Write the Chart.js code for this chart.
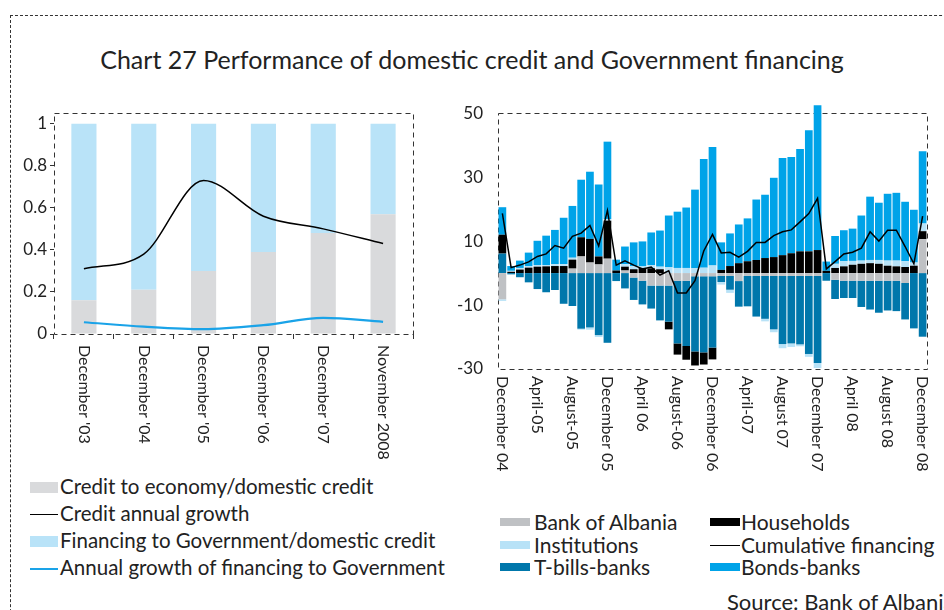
<!DOCTYPE html>
<html>
<head>
<meta charset="utf-8">
<script src="https://cdn.jsdelivr.net/npm/chart.js"></script>
<style>
  body { margin: 0; width: 944px; height: 610px; overflow: hidden; background: #fff; font-family: Lato, "Noto Sans", sans-serif; color: #222; position: relative; }
  #frame { position: absolute; left: 10px; top: 15px; width: 1000px; height: 700px; border: 1px dashed #333; }
  #title { position: absolute; left: 0; width: 944px; top: 44px; text-align: center; font-size: 25px; }
  .cv { position: absolute; }
  .leg { position: absolute; font-size: 20.5px; line-height: 27px; white-space: nowrap; }
  .leg div { position: relative; padding-left: 30px; }
  .sw { position: absolute; left: 0; top: 50%; }
  .leg2 { position: absolute; font-size: 21px; line-height: 22.5px; white-space: nowrap; }
  .leg2 div { position: relative; padding-left: 34px; }
  #source { position: absolute; left: 727px; top: 588px; font-size: 22px; white-space: nowrap; }
</style>
</head>
<body>
<div id="frame"></div>
<div id="title">Chart 27 Performance of domestic credit and Government financing</div>
<canvas id="left" class="cv" style="left:10px;top:100px" width="420" height="370"></canvas>
<canvas id="right" class="cv" style="left:455px;top:96px" width="489" height="384"></canvas>

<div class="leg" style="left:30px;top:473px">
  <div><span class="sw" style="width:28px;height:11px;margin-top:-5px;background:#d9dadc"></span>Credit to economy/domestic credit</div>
  <div><span class="sw" style="width:28px;height:1.5px;background:#000"></span>Credit annual growth</div>
  <div><span class="sw" style="width:28px;height:11px;margin-top:-5px;background:#b9e3f8"></span>Financing to Government/domestic credit</div>
  <div><span class="sw" style="width:28px;height:2px;background:#1aa3e8"></span>Annual growth of financing to Government</div>
</div>

<div class="leg2" style="left:500px;top:511px">
  <div><span class="sw" style="width:30px;height:8px;margin-top:-4px;background:#bfc1c4"></span>Bank of Albania</div>
  <div><span class="sw" style="width:30px;height:8px;margin-top:-4px;background:#b8e2f7"></span>Institutions</div>
  <div><span class="sw" style="width:30px;height:8px;margin-top:-4px;background:#0077ab"></span>T-bills-banks</div>
</div>
<div class="leg2" style="left:710px;top:511px">
  <div style="padding-left:31px"><span class="sw" style="width:30px;height:8px;margin-top:-4px;background:#000"></span>Households</div>
  <div style="padding-left:31px"><span class="sw" style="width:30px;height:1.2px;background:#000"></span>Cumulative financing</div>
  <div style="padding-left:31px"><span class="sw" style="width:30px;height:8px;margin-top:-4px;background:#00a3e8"></span>Bonds-banks</div>
</div>
<div id="source">Source: Bank of Albania</div>

<script>
// ---- left chart data ----
const leftCats = ["December '03", "December '04", "December '05", "December '06", "December '07", "November 2008"];
const creditShare = [0.16, 0.21, 0.30, 0.39, 0.48, 0.57];
const govShare = [0.84, 0.79, 0.70, 0.61, 0.52, 0.43];
const creditGrowth = [0.31, 0.38, 0.73, 0.56, 0.50, 0.43];
const govGrowth = [0.056, 0.035, 0.023, 0.042, 0.077, 0.058];
const leftTicks = [0, 0.2, 0.4, 0.6, 0.8, 1];
const leftTickLabels = ['0', '0.2', '0.4', '0.6', '0.8', '1'];

// ---- right chart data (monthly, Dec 04 - Dec 08) ----
const rightTickLabels = ['December 04', 'April-05', 'August-05', 'December 05', 'April 06', 'August-06',
  'December 06', 'April-07', 'August 07', 'December 07', 'April 08', 'August 08', 'December 08'];
const bankOfAlbania = [-8.2, 0, 0, 0, 0, 0, 0, 0, 1.4, 5.2, 3.3, 2.7, 4.5,
  0, 0.8, -1.4, -2.4, -3.9, -3.9, -3.9, -2.4, -2.4, -1.0, -1.0, -1.0,
  -0.9, -0.9, -2.5, -0.9, -0.9, -0.9, -0.9, -0.9, -0.9, -0.9, -0.9, -0.9,
  0, -2.1, -2.4, -2.4, -2.4, -2.4, -2.4, -2.4, -2.4, -3.1, 0, 10.6];
const tbillsBanks = [6.1, -0.4, -1.3, -2.9, -5.0, -6.0, -5.3, -9.6, -10.3, -17.4, -17.0, -19.4, -21.8,
  -2.5, -4.8, -7.0, -7.4, -7.2, -10.9, -11.3, -19.6, -20.4, -23.5, -23.8, -22.3,
  -1.9, -4.3, -8.0, -9.5, -12.7, -13.4, -16.7, -21.3, -21.1, -21.4, -24.4, -27.2,
  -2.4, -6.0, -5.4, -5.4, -8.2, -9.0, -10.0, -9.3, -9.5, -11.4, -17.3, -19.9];
const households = [5.9, 0.4, 1.1, 1.7, 2.0, 2.1, 2.2, 2.2, 2.8, 6.0, 7.4, 2.5, 11.9,
  0.8, 1.2, 1.2, 1.6, 1.5, 1.2, -2.4, -3.5, -4.3, -4.4, -3.8, -3.7,
  1.0, 2.2, 3.1, 3.7, 4.1, 4.7, 5.0, 5.6, 6.2, 6.8, 6.8, 7.2,
  0.7, 1.6, 2.1, 2.6, 2.9, 3.1, 2.9, 2.3, 2.1, 1.9, 2.3, 2.5];
const institutions = [-0.5, 0.3, 0.5, 0.5, 0.5, 0.4, 0.6, 0.6, 0.6, -0.3, -0.7, -0.6, 0.5,
  0, 0.8, 1.0, 0.5, 1.0, 0.8, 1.8, 1.6, 1.6, 1.5, 1.7, 2.4,
  -0.8, -1.0, 0, 0, 0, -0.8, -0.9, -1.3, -1.1, -0.6, -0.9, -1.6,
  0, 1.3, 1.6, 1.2, 1.0, 1.0, 1.2, 1.6, 1.8, 1.8, 1.0, 2.4];
const bondsBanks = [8.6, 1.5, 2.3, 4.2, 7.6, 9.2, 10.7, 14.5, 16.2, 18.0, 21.0, 22.5, 24.2,
  3.4, 5.5, 7.4, 7.8, 10.2, 11.3, 16.2, 17.6, 18.9, 24.6, 34.0, 37.0,
  8.6, 10.2, 12.1, 13.4, 18.9, 19.8, 24.8, 30.4, 30.1, 32.0, 37.9, 45.3,
  2.9, 8.7, 9.7, 10.1, 14.1, 19.8, 17.9, 20.9, 21.2, 18.6, 16.5, 22.6];
const cumulative = [18.7, 1.7, 2.5, 3.5, 5.2, 6.0, 8.6, 7.8, 11.5, 12.5, 14.9, 8.5, 19.6,
  2.5, 3.8, 2.5, 1.3, 1.9, -0.6, 0.7, -6.2, -6.2, -2.4, 6.9, 12.1,
  6.3, 6.5, 5.0, 6.8, 9.6, 9.6, 11.7, 12.9, 13.5, 16.0, 18.6, 23.4,
  1.3, 3.6, 6.0, 6.5, 7.8, 12.9, 10.0, 13.4, 13.4, 8.3, 2.9, 17.8];
const rightTicks = [-30, -10, 10, 30, 50];

Chart.defaults.font.family = 'Lato, "Noto Sans", sans-serif';
Chart.defaults.color = '#222';

// dashed box round the plot area
const dashedBox = {
  id: 'dashedBox',
  beforeDatasetsDraw(chart) {
    const {ctx, chartArea: a} = chart;
    ctx.save();
    ctx.setLineDash([5, 4]);
    ctx.strokeStyle = '#333';
    ctx.lineWidth = 1;
    ctx.strokeRect(Math.round(a.left) + 0.5, Math.round(a.top) + 0.5, Math.round(a.right - a.left), Math.round(a.bottom - a.top));
    ctx.restore();
  }
};

// x labels written top to bottom (turned clockwise)
function downLabels(getLabels, gap) {
  return {
    id: 'downLabels',
    afterDraw(chart) {
      const sc = chart.scales.x;
      const ctx = chart.ctx;
      ctx.save();
      ctx.font = '16px ' + Chart.defaults.font.family;
      ctx.fillStyle = '#222';
      ctx.textAlign = 'left';
      ctx.textBaseline = 'middle';
      getLabels().forEach(([i, t]) => {
        ctx.save();
        ctx.translate(sc.getPixelForValue(i), sc.top + gap);
        ctx.rotate(Math.PI / 2);
        ctx.fillText(t, 0, 0);
        ctx.restore();
      });
      ctx.restore();
    }
  };
}

new Chart(document.getElementById('left'), {
  type: 'bar',
  data: {
    labels: leftCats,
    datasets: [
      {type: 'line', label: 'Credit annual growth', data: creditGrowth, borderColor: '#000', borderWidth: 1.5,
        pointRadius: 0, tension: 0.4, cubicInterpolationMode: 'monotone', stack: 'l1', order: 0},
      {type: 'line', label: 'Annual growth of financing to Government', data: govGrowth, borderColor: '#1aa3e8',
        borderWidth: 2.2, pointRadius: 0, tension: 0.4, cubicInterpolationMode: 'monotone', stack: 'l2', order: 0},
      {label: 'Credit to economy/domestic credit', data: creditShare, backgroundColor: '#d9dadc', stack: 'b', order: 1},
      {label: 'Financing to Government/domestic credit', data: govShare, backgroundColor: '#b9e3f8', stack: 'b', order: 1}
    ]
  },
  options: {
    responsive: false,
    animation: false,
    barPercentage: 0.42,
    categoryPercentage: 1,
    layout: {padding: {left: 0, right: 17, top: 9, bottom: 0}},
    plugins: {legend: {display: false}, tooltip: {enabled: false}},
    scales: {
      x: {
        stacked: true,
        ticks: {display: false},
        grid: {display: true, offset: true, drawOnChartArea: false, tickLength: 5, color: '#333'},
        border: {display: false},
        afterFit(s) { s.height = 136; }
      },
      y: {
        stacked: true,
        min: 0,
        max: 1.05,
        afterBuildTicks(s) { s.ticks = leftTicks.map(v => ({value: v})); },
        ticks: {font: {size: 17}, padding: 3, callback: (v, i) => leftTickLabels[i]},
        grid: {display: true, drawOnChartArea: false, tickLength: 4, color: '#333'},
        border: {display: false},
        afterFit(s) { s.width = 44; }
      }
    }
  },
  plugins: [dashedBox, downLabels(() => leftCats.map((t, i) => [i, t]), 11)]
});

const months = bondsBanks.map((_, i) => i);
const barSet = (label, data, color) => ({label, data, backgroundColor: color, stack: 's', order: 1, clip: false});

new Chart(document.getElementById('right'), {
  type: 'bar',
  data: {
    labels: months,
    datasets: [
      {type: 'line', label: 'Cumulative financing', data: cumulative, borderColor: '#000', borderWidth: 1.5,
        pointRadius: 0, tension: 0, stack: 'c', order: 0},
      barSet('Bank of Albania', bankOfAlbania, '#bfc1c4'),
      barSet('T-bills-banks', tbillsBanks, '#0077ab'),
      barSet('Households', households, '#000'),
      barSet('Institutions', institutions, '#b8e2f7'),
      barSet('Bonds-banks', bondsBanks, '#00a3e8')
    ]
  },
  options: {
    responsive: false,
    animation: false,
    barPercentage: 0.88,
    categoryPercentage: 1,
    layout: {padding: {left: 0, right: 17, top: 15, bottom: 0}},
    plugins: {legend: {display: false}, tooltip: {enabled: false}},
    scales: {
      x: {
        stacked: true,
        ticks: {display: false},
        grid: {display: false},
        border: {display: false},
        afterFit(s) { s.height = 111; }
      },
      y: {
        stacked: true,
        min: -30,
        max: 50,
        afterBuildTicks(s) { s.ticks = rightTicks.map(v => ({value: v})); },
        ticks: {font: {size: 17}, padding: 7},
        grid: {display: false},
        border: {display: false},
        afterFit(s) { s.width = 43; }
      }
    }
  },
  plugins: [dashedBox, downLabels(() => rightTickLabels.map((t, k) => [k * 4, t]), 7)]
});
</script>
</body>
</html>
